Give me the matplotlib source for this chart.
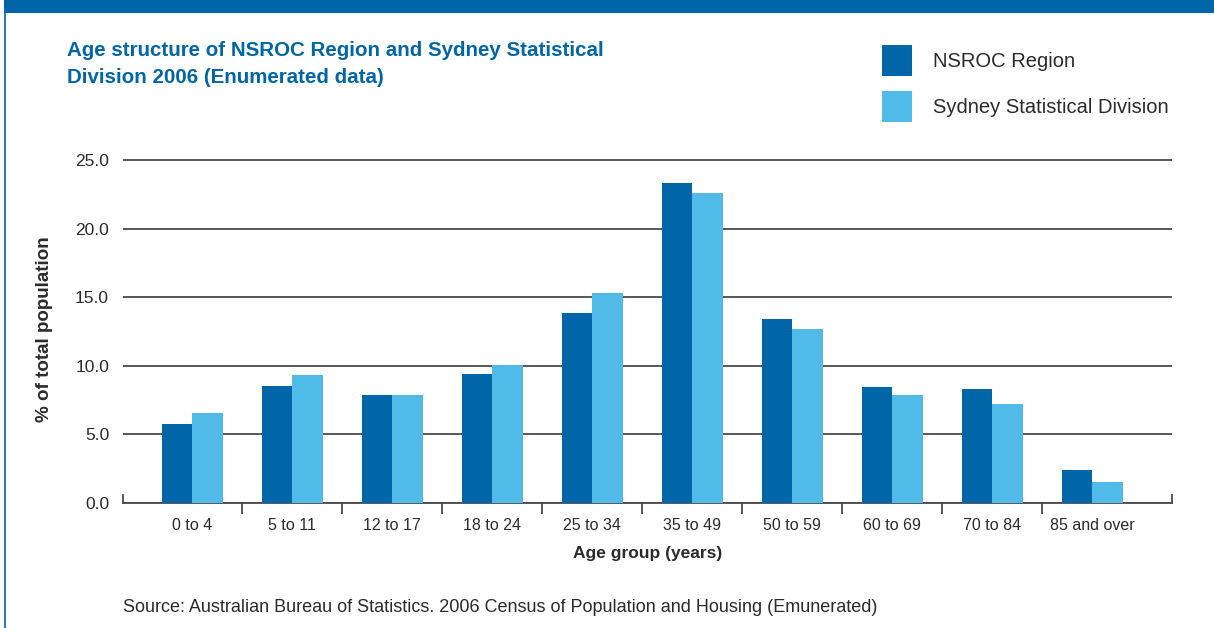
import matplotlib
matplotlib.use("Agg")
import matplotlib.pyplot as plt
import numpy as np
from matplotlib.patches import Rectangle

# ---- data ----
age_groups = ["0 to 4", "5 to 11", "12 to 17", "18 to 24", "25 to 34",
              "35 to 49", "50 to 59", "60 to 69", "70 to 84", "85 and over"]
nsroc = [5.75, 8.5, 7.9, 9.4, 13.85, 23.3, 13.4, 8.45, 8.3, 2.4]
sydney = [6.55, 9.3, 7.9, 10.05, 15.3, 22.6, 12.7, 7.9, 7.25, 1.55]
yticks = [0, 5, 10, 15, 20, 25]
series_names = ["NSROC Region", "Sydney Statistical Division"]

DARK = "#0066A8"
LIGHT = "#50BBE9"
TXT = "#2b2b2b"
GRID = "#4a4a4a"

plt.rcParams["font.family"] = ["Liberation Sans", "DejaVu Sans"]

W, H = 1214, 628
fig = plt.figure(figsize=(W / 100, H / 100), dpi=100)
fig.patch.set_facecolor("white")

def fx(px):
    return px / W

def fy(py):
    return 1 - py / H

# banner and left border
fig.add_artist(Rectangle((fx(4), fy(13)), 1 - fx(4), 13 / H, transform=fig.transFigure,
                         facecolor=DARK, edgecolor="none"))
fig.add_artist(plt.Line2D([fx(4.5), fx(4.5)], [0, fy(13)], transform=fig.transFigure,
                          color=DARK, lw=1.2))

# axes
ymax = 25.3
px_per_unit = (503 - 160) / 25.0
top_px = 503 - ymax * px_per_unit
ax = fig.add_axes([fx(123), fy(503), fx(1172) - fx(123), (503 - top_px) / H])

x = np.arange(len(age_groups))
bw = 0.305
ax.bar(x - bw / 2, nsroc, width=bw, color=DARK, label=series_names[0], zorder=3)
ax.bar(x + bw / 2, sydney, width=bw, color=LIGHT, label=series_names[1], zorder=3)

ax.set_xlim(-0.69, 9.80)
ax.set_ylim(0, ymax)

ax.set_yticks(yticks)
ax.set_yticklabels([f"{v:.1f}" for v in yticks], fontsize=12.5, color=TXT)
ax.tick_params(axis="y", length=0, pad=10)
ax.yaxis.grid(True, color=GRID, lw=1.3, zorder=1)
ax.set_axisbelow(True)

ax.set_xticks(x)
ax.set_xticklabels(age_groups, fontsize=11.5, color=TXT)
ax.set_xticks(x[:-1] + 0.5, minor=True)
ax.tick_params(axis="x", which="major", length=0, pad=11)
ax.tick_params(axis="x", which="minor", length=8, width=1.3, color=GRID, direction="out")

ax.spines["top"].set_visible(False)
ax.spines["bottom"].set_color(GRID)
ax.spines["bottom"].set_linewidth(1.3)
for s in ["left", "right"]:
    ax.spines[s].set_bounds(0, 0.6)
    ax.spines[s].set_color(GRID)
    ax.spines[s].set_linewidth(1.3)

ax.set_xlabel("Age group (years)", fontsize=12.5, fontweight="bold", color=TXT, labelpad=9)
ax.set_ylabel("% of total population", fontsize=13.5, fontweight="bold", color=TXT, labelpad=16)

# title
fig.text(fx(67), fy(41), "Age structure of NSROC Region and Sydney Statistical\nDivision 2006 (Enumerated data)",
         fontsize=14.8, fontweight="bold", color=DARK, va="top", ha="left", linespacing=1.55)

# legend
handles, labels = ax.get_legend_handles_labels()
leg = fig.legend(handles, labels, loc="upper left", bbox_to_anchor=(fx(864), fy(27)),
                 frameon=False, fontsize=14.5, handlelength=1.5, handleheight=2.0,
                 handletextpad=1.05, labelspacing=0.72, labelcolor=TXT)

# source
fig.text(fx(123), fy(607), "Source: Australian Bureau of Statistics. 2006 Census of Population and Housing (Emunerated)",
         fontsize=13.0, color=TXT, va="center", ha="left")

fig.savefig("out.png", dpi=100)
